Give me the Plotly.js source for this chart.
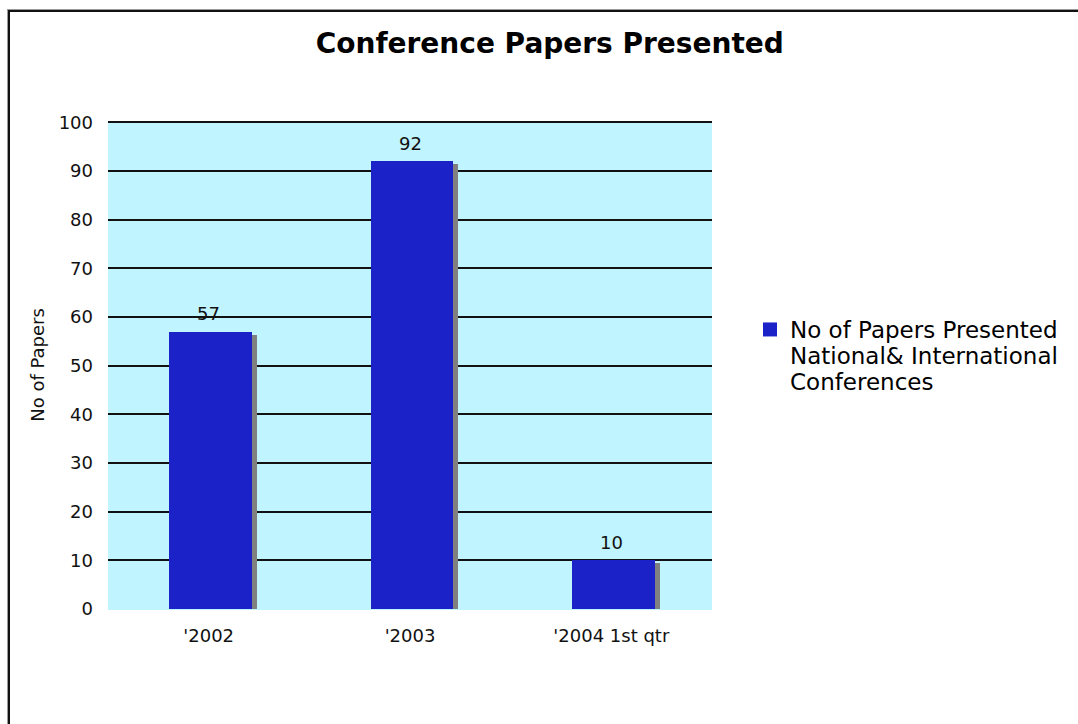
<!DOCTYPE html>
<html>
<head>
<meta charset="utf-8">
<script src="https://cdn.plot.ly/plotly-3.0.1.min.js"></script>
<style>
  html, body { margin: 0; padding: 0; background: #fff; overflow: hidden; }
  #chart { position: absolute; left: 0; top: 0; width: 1078px; height: 724px; }
  #frame {
    position: absolute; left: 8px; top: 10px; width: 2000px; height: 2000px;
    border: 2px solid #111; box-shadow: -1px -1px 0 #999; pointer-events: none;
  }
</style>
</head>
<body>
<div id="chart"></div>
<div id="frame"></div>
<script>
// Conference papers presented per period
const periods = ["'2002", "'2003", "'2004 1st qtr"];
const papers = [57, 92, 10];
const seriesName = "No of Papers Presented<br>National& International<br>Conferences";
const yTicks = [0, 10, 20, 30, 40, 50, 60, 70, 80, 90, 100];

const FONT = "DejaVu Sans, Verdana, sans-serif";
const barWidth = 0.41;

// drop shadow sits slightly right of and below each bar
const shadow = {
  type: "bar",
  x: periods,
  y: papers,
  base: -0.6,
  width: barWidth,
  offset: -barWidth / 2 + 0.035,
  marker: { color: "#808080", line: { width: 0 } },
  showlegend: false,
  hoverinfo: "skip"
};

const bars = {
  type: "bar",
  name: seriesName,
  x: periods,
  y: papers,
  width: barWidth,
  offset: -barWidth / 2 + 0.01,
  marker: { color: "#1A22C8", line: { width: 0 } }
};

// value labels above each bar
const valueLabels = periods.map((p, i) => ({
  x: p,
  y: papers[i],
  xref: "x",
  yref: "y",
  text: String(papers[i]),
  showarrow: false,
  yanchor: "middle",
  yshift: 18,
  font: { family: FONT, size: 18, color: "#111" }
}));

const layout = {
  width: 1078,
  height: 724,
  margin: { l: 108, r: 366, t: 121, b: 115 },
  paper_bgcolor: "#ffffff",
  plot_bgcolor: "#C0F4FF",
  barmode: "overlay",
  bargap: 0,
  title: {
    text: "<b>Conference Papers Presented</b>",
    font: { family: FONT, size: 28, color: "#000" },
    xref: "container",
    yref: "container",
    x: 0.51,
    xanchor: "center",
    y: 1 - 43 / 724,
    yanchor: "middle"
  },
  xaxis: {
    type: "category",
    showgrid: false,
    showline: false,
    zeroline: false,
    ticks: "",
    ticklabelstandoff: 14,
    tickfont: { family: FONT, size: 18, color: "#111" }
  },
  yaxis: {
    range: [0, 100.3],
    tickvals: yTicks,
    ticks: "",
    ticklabelstandoff: 14,
    showline: false,
    showgrid: true,
    gridcolor: "#111",
    gridwidth: 2,
    zeroline: true,
    zerolinecolor: "#C0F4FF",
    zerolinewidth: 2,
    tickfont: { family: FONT, size: 18, color: "#111" },
    title: {
      text: "No of Papers",
      font: { family: FONT, size: 18, color: "#111" },
      standoff: 9
    }
  },
  showlegend: true,
  legend: {
    x: (750 - 108) / 604,
    xanchor: "left",
    y: (609 - 308) / 488,
    yanchor: "top",
    valign: "top",
    bgcolor: "rgba(0,0,0,0)",
    font: { family: FONT, size: 23, color: "#000" }
  },
  annotations: valueLabels
};

Plotly.newPlot("chart", [shadow, bars], layout, { displayModeBar: false, staticPlot: true })
  .then(gd => {
    // tighten the line spacing of the multi-line legend entry
    gd.querySelectorAll(".legendtext tspan.line").forEach((t, i) => {
      t.setAttribute("dy", (i * 1.13).toFixed(2) + "em");
    });
    // slightly larger legend swatch
    gd.querySelectorAll(".legendpoints path").forEach(p => {
      p.setAttribute("d", "M7,7H-7V-7H7Z");
    });
  });
</script>
</body>
</html>
